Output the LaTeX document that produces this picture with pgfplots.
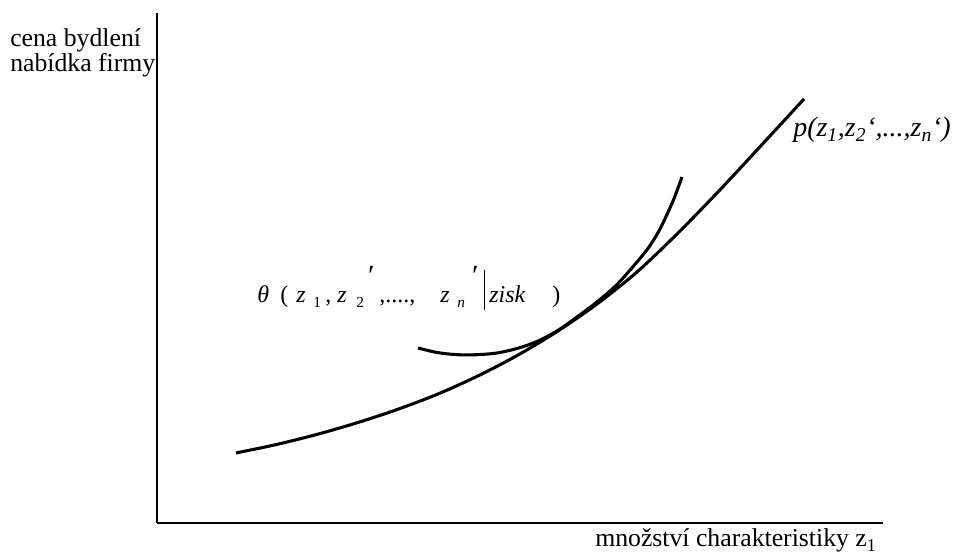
\documentclass[border=0pt]{standalone}
\usepackage{fontspec}
\setmainfont{Liberation Serif}
\usepackage{pgfplots}
\pgfplotsset{compat=1.18}

% supply price curve p and bid curve theta (units: 1 = 0.75pt)
\pgfplotstableread{
x   y
79  70
120 78.6
160 88.6
200 100.2
240 113.4
280 128.6
320 146.6
360 167.4
400 191.4
440 219
480 251
520 289
560 330
600 373
647 424
}\pricecurve

\pgfplotstableread{
x   y
261 175
280 170.5
300 168.3
320 168.3
340 170
360 174.5
380 181.5
400 192
420 206
440 221
460 238.5
480 261
492 276
503 294
516 322
525 346
}\bidcurve

\begin{document}
\begin{tikzpicture}
\begin{axis}[
  scale only axis,
  width=544.5pt, height=382.5pt,
  xmin=0, xmax=726, ymin=0, ymax=510,
  axis lines*=left,
  axis line style={line width=1.5pt},
  xtick=\empty, ytick=\empty,
  clip=false,
]
\path (axis cs:-157,-33) rectangle (axis cs:808,523);

\addplot[line width=2.3pt, smooth, tension=0.5] table[x=x,y=y] {\pricecurve};
\addplot[line width=2.3pt, smooth, tension=0.5] table[x=x,y=y] {\bidcurve};

% axis titles
\node[anchor=base west, font=\fontsize{19.3pt}{20pt}\selectfont, inner sep=0pt]
  at (axis cs:-147,476) {cena bydlení};
\node[anchor=base west, font=\fontsize{19.3pt}{20pt}\selectfont, inner sep=0pt]
  at (axis cs:-147,451) {nabídka firmy};
\node[anchor=base west, font=\fontsize{19.3pt}{20pt}\selectfont, inner sep=0pt]
  at (axis cs:438,-24) {množství charakteristiky z\textsubscript{1}};

% label of the price curve
\node[anchor=base west, font=\fontsize{21pt}{22pt}\selectfont\itshape, inner sep=0pt]
  at (axis cs:636,386) {p(z\textsubscript{1},z\textsubscript{2}‘,...,z\textsubscript{n}‘)};

% label of the bid curve
\begin{scope}[every node/.style={anchor=base west, inner sep=0pt, font=\fontsize{18pt}{19pt}\selectfont}]
\node at (axis cs:100,220) {\itshape θ};
\node at (axis cs:123,220) {(};
\node at (axis cs:139,220) {\itshape z};
\node[font=\fontsize{11.5pt}{12pt}\selectfont] at (axis cs:156,215) {1};
\node at (axis cs:168,220) {,};
\node at (axis cs:180,220) {\itshape z};
\node[font=\fontsize{11.5pt}{12pt}\selectfont] at (axis cs:199,215) {2};
\node[font=\fontsize{22pt}{23pt}\selectfont] at (axis cs:209,237) {\itshape ′};
\node at (axis cs:222,220) {,....,};
\node at (axis cs:283,220) {\itshape z};
\node[font=\fontsize{11.5pt}{12pt}\selectfont\itshape] at (axis cs:300,215) {n};
\node[font=\fontsize{22pt}{23pt}\selectfont] at (axis cs:313,237) {\itshape ′};
\node at (axis cs:327,220) {\rule[-5.25pt]{0.8pt}{30pt}};
\node at (axis cs:332,220) {\itshape zisk};
\node at (axis cs:395,220) {)};
\end{scope}
\end{axis}
\end{tikzpicture}
\end{document}
